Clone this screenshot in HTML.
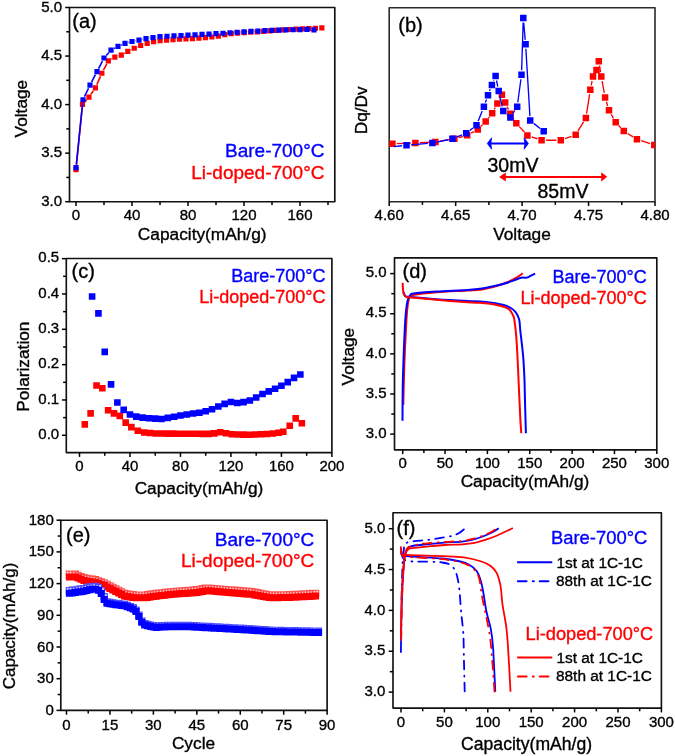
<!DOCTYPE html>
<html><head><meta charset="utf-8"><title>figure</title>
<style>
html,body{margin:0;padding:0;background:#fff;width:675px;height:756px;overflow:hidden;}
svg{display:block;will-change:transform;font-family:"Liberation Sans", sans-serif;}
</style></head><body>
<svg width="675" height="756" viewBox="0 0 675 756">
<defs><clipPath id="clipb"><rect x="389.2" y="7.8" width="265.8" height="193.9"/></clipPath></defs>
<rect width="675" height="756" fill="#fff"/>
<rect x="69.5" y="7.5" width="265.3" height="194.2" fill="none" stroke="#111" stroke-width="1.65" stroke-linejoin="round"/>
<line x1="76" y1="201.7" x2="76" y2="206" stroke="#000" stroke-width="1.5"/>
<line x1="104" y1="201.7" x2="104" y2="204.9" stroke="#000" stroke-width="1.5"/>
<line x1="132" y1="201.7" x2="132" y2="206" stroke="#000" stroke-width="1.5"/>
<line x1="160" y1="201.7" x2="160" y2="204.9" stroke="#000" stroke-width="1.5"/>
<line x1="188" y1="201.7" x2="188" y2="206" stroke="#000" stroke-width="1.5"/>
<line x1="216" y1="201.7" x2="216" y2="204.9" stroke="#000" stroke-width="1.5"/>
<line x1="244" y1="201.7" x2="244" y2="206" stroke="#000" stroke-width="1.5"/>
<line x1="272" y1="201.7" x2="272" y2="204.9" stroke="#000" stroke-width="1.5"/>
<line x1="300" y1="201.7" x2="300" y2="206" stroke="#000" stroke-width="1.5"/>
<line x1="328" y1="201.7" x2="328" y2="204.9" stroke="#000" stroke-width="1.5"/>
<line x1="69.5" y1="201.7" x2="65.2" y2="201.7" stroke="#000" stroke-width="1.5"/>
<line x1="69.5" y1="177.42" x2="66.3" y2="177.42" stroke="#000" stroke-width="1.5"/>
<line x1="69.5" y1="153.15" x2="65.2" y2="153.15" stroke="#000" stroke-width="1.5"/>
<line x1="69.5" y1="128.88" x2="66.3" y2="128.88" stroke="#000" stroke-width="1.5"/>
<line x1="69.5" y1="104.6" x2="65.2" y2="104.6" stroke="#000" stroke-width="1.5"/>
<line x1="69.5" y1="80.32" x2="66.3" y2="80.32" stroke="#000" stroke-width="1.5"/>
<line x1="69.5" y1="56.05" x2="65.2" y2="56.05" stroke="#000" stroke-width="1.5"/>
<line x1="69.5" y1="31.78" x2="66.3" y2="31.78" stroke="#000" stroke-width="1.5"/>
<line x1="69.5" y1="7.5" x2="65.2" y2="7.5" stroke="#000" stroke-width="1.5"/>
<text x="76" y="219.8" font-size="15" fill="#000" text-anchor="middle" stroke="#000" stroke-width="0.35">0</text>
<text x="132" y="219.8" font-size="15" fill="#000" text-anchor="middle" stroke="#000" stroke-width="0.35">40</text>
<text x="188" y="219.8" font-size="15" fill="#000" text-anchor="middle" stroke="#000" stroke-width="0.35">80</text>
<text x="244" y="219.8" font-size="15" fill="#000" text-anchor="middle" stroke="#000" stroke-width="0.35">120</text>
<text x="300" y="219.8" font-size="15" fill="#000" text-anchor="middle" stroke="#000" stroke-width="0.35">160</text>
<text x="62" y="205.7" font-size="15" fill="#000" text-anchor="end" stroke="#000" stroke-width="0.35">3.0</text>
<text x="62" y="157.15" font-size="15" fill="#000" text-anchor="end" stroke="#000" stroke-width="0.35">3.5</text>
<text x="62" y="108.6" font-size="15" fill="#000" text-anchor="end" stroke="#000" stroke-width="0.35">4.0</text>
<text x="62" y="60.05" font-size="15" fill="#000" text-anchor="end" stroke="#000" stroke-width="0.35">4.5</text>
<text x="62" y="11.5" font-size="15" fill="#000" text-anchor="end" stroke="#000" stroke-width="0.35">5.0</text>
<text x="202.2" y="239.5" font-size="17.3" fill="#000" text-anchor="middle" stroke="#000" stroke-width="0.35">Capacity(mAh/g)</text>
<text x="26.7" y="108.6" font-size="17.3" fill="#000" text-anchor="middle" transform="rotate(-90 26.7 108.6)" stroke="#000" stroke-width="0.35">Voltage</text>
<text x="72.3" y="27.5" font-size="20" fill="#000" text-anchor="start" stroke="#000" stroke-width="0.35">(a)</text>
<text x="324.5" y="156.8" font-size="19" fill="#0000ff" text-anchor="end" stroke="#0000ff" stroke-width="0.35">Bare-700°C</text>
<text x="324.5" y="179.3" font-size="19" fill="#ff0000" text-anchor="end" stroke="#ff0000" stroke-width="0.35">Li-doped-700°C</text>
<path d="M76.34 166.27L82.13 107.79M84.72 101.86L86.69 99.63M90.88 94.29L93.46 90.59M96.79 84.7L100.5 76.36M103.45 70.24L106.78 63.84M111.29 59.12L111.87 58.78M124.23 53.44L124.82 53.09M130.81 49.9L131.17 49.72M137.35 46.9L137.57 46.81" fill="none" stroke="#ff0000" stroke-width="1.6"/>
<path d="M73.4 167.06h5.2v5.2h-5.2zM79.87 101.81h5.2v5.2h-5.2zM86.34 94.48h5.2v5.2h-5.2zM92.81 85.2h5.2v5.2h-5.2zM99.28 70.66h5.2v5.2h-5.2zM105.75 58.22h5.2v5.2h-5.2zM112.22 54.48h5.2v5.2h-5.2zM118.69 52.54h5.2v5.2h-5.2zM125.16 48.79h5.2v5.2h-5.2zM131.63 45.63h5.2v5.2h-5.2zM138.09 42.88h5.2v5.2h-5.2zM144.56 40.86h5.2v5.2h-5.2zM151.03 38.95h5.2v5.2h-5.2zM157.5 37.98h5.2v5.2h-5.2zM163.97 37.48h5.2v5.2h-5.2zM170.44 37.01h5.2v5.2h-5.2zM176.91 36.67h5.2v5.2h-5.2zM183.38 36.35h5.2v5.2h-5.2zM189.85 36.03h5.2v5.2h-5.2zM196.32 35.51h5.2v5.2h-5.2zM202.79 34.95h5.2v5.2h-5.2zM209.26 34.39h5.2v5.2h-5.2zM215.73 33.49h5.2v5.2h-5.2zM222.2 32h5.2v5.2h-5.2zM228.67 30.94h5.2v5.2h-5.2zM235.14 30.51h5.2v5.2h-5.2zM241.61 30.09h5.2v5.2h-5.2zM248.08 29.66h5.2v5.2h-5.2zM254.55 29.23h5.2v5.2h-5.2zM261.01 28.74h5.2v5.2h-5.2zM267.48 28.24h5.2v5.2h-5.2zM273.95 27.75h5.2v5.2h-5.2zM280.42 27.25h5.2v5.2h-5.2zM286.89 26.92h5.2v5.2h-5.2zM293.36 26.6h5.2v5.2h-5.2zM299.83 26.28h5.2v5.2h-5.2zM306.3 25.96h5.2v5.2h-5.2zM312.77 25.64h5.2v5.2h-5.2zM319.24 25.32h5.2v5.2h-5.2z" fill="#ff0000"/>
<path d="M76.35 164.33L82.65 103.13M84.47 96.68L88.53 88.24M91.56 82.16L95.44 74.61M98.56 68.56L102.44 61.01M106.28 55.47L108.72 52.75M113.97 48.57L115.03 47.99M121.14 45.03L121.86 44.73M128.28 42.52L128.72 42.39M135.33 40.79L135.67 40.72M142.33 39.34L142.67 39.26M149.37 38.1L149.63 38.07M156.37 37.13L156.63 37.1M163.4 36.45L163.6 36.44M170.4 36.09L170.6 36.08M177.4 35.73L177.6 35.71M184.4 35.36L184.6 35.35M191.4 35L191.6 34.99M198.4 34.63L198.6 34.62M205.4 34.27L205.6 34.26M212.4 33.9L212.6 33.89M219.39 33.48L219.61 33.47M226.39 33L226.61 32.98M233.39 32.51L233.61 32.5M240.39 32.03L240.61 32.01M247.4 31.6L247.6 31.59M254.4 31.23L254.6 31.22M261.4 30.87L261.6 30.86M268.4 30.51L268.6 30.5M275.4 30.22L275.6 30.22M282.4 30.03L282.6 30.02M289.4 29.84L289.6 29.83M296.4 29.64L296.6 29.64M303.4 29.45L303.6 29.44M310.39 29.58L310.61 29.6" fill="none" stroke="#0000ff" stroke-width="1.6"/>
<path d="M73.4 165.11h5.2v5.2h-5.2zM80.4 97.15h5.2v5.2h-5.2zM87.4 82.58h5.2v5.2h-5.2zM94.4 68.99h5.2v5.2h-5.2zM101.4 55.39h5.2v5.2h-5.2zM108.4 47.62h5.2v5.2h-5.2zM115.4 43.74h5.2v5.2h-5.2zM122.4 40.83h5.2v5.2h-5.2zM129.4 38.88h5.2v5.2h-5.2zM136.4 37.43h5.2v5.2h-5.2zM143.4 35.97h5.2v5.2h-5.2zM150.4 35h5.2v5.2h-5.2zM157.4 34.03h5.2v5.2h-5.2zM164.4 33.67h5.2v5.2h-5.2zM171.4 33.3h5.2v5.2h-5.2zM178.4 32.94h5.2v5.2h-5.2zM185.4 32.57h5.2v5.2h-5.2zM192.4 32.21h5.2v5.2h-5.2zM199.4 31.85h5.2v5.2h-5.2zM206.4 31.48h5.2v5.2h-5.2zM213.4 31.12h5.2v5.2h-5.2zM220.4 30.63h5.2v5.2h-5.2zM227.4 30.15h5.2v5.2h-5.2zM234.4 29.66h5.2v5.2h-5.2zM241.4 29.18h5.2v5.2h-5.2zM248.4 28.81h5.2v5.2h-5.2zM255.4 28.45h5.2v5.2h-5.2zM262.4 28.08h5.2v5.2h-5.2zM269.4 27.72h5.2v5.2h-5.2zM276.4 27.52h5.2v5.2h-5.2zM283.4 27.33h5.2v5.2h-5.2zM290.4 27.14h5.2v5.2h-5.2zM297.4 26.94h5.2v5.2h-5.2zM304.4 26.75h5.2v5.2h-5.2zM311.4 27.23h5.2v5.2h-5.2z" fill="#0000ff"/>
<rect x="389.2" y="7.8" width="265.8" height="193.9" fill="none" stroke="#2a2a2a" stroke-width="1.6" stroke-linejoin="round"/>
<line x1="389.2" y1="201.7" x2="389.2" y2="206" stroke="#000" stroke-width="1.5"/>
<line x1="422.43" y1="201.7" x2="422.43" y2="204.9" stroke="#000" stroke-width="1.5"/>
<line x1="455.65" y1="201.7" x2="455.65" y2="206" stroke="#000" stroke-width="1.5"/>
<line x1="488.88" y1="201.7" x2="488.88" y2="204.9" stroke="#000" stroke-width="1.5"/>
<line x1="522.1" y1="201.7" x2="522.1" y2="206" stroke="#000" stroke-width="1.5"/>
<line x1="555.33" y1="201.7" x2="555.33" y2="204.9" stroke="#000" stroke-width="1.5"/>
<line x1="588.55" y1="201.7" x2="588.55" y2="206" stroke="#000" stroke-width="1.5"/>
<line x1="621.77" y1="201.7" x2="621.77" y2="204.9" stroke="#000" stroke-width="1.5"/>
<line x1="655" y1="201.7" x2="655" y2="206" stroke="#000" stroke-width="1.5"/>
<text x="389.2" y="220.2" font-size="15" fill="#000" text-anchor="middle" stroke="#000" stroke-width="0.35">4.60</text>
<text x="455.65" y="220.2" font-size="15" fill="#000" text-anchor="middle" stroke="#000" stroke-width="0.35">4.65</text>
<text x="522.1" y="220.2" font-size="15" fill="#000" text-anchor="middle" stroke="#000" stroke-width="0.35">4.70</text>
<text x="588.55" y="220.2" font-size="15" fill="#000" text-anchor="middle" stroke="#000" stroke-width="0.35">4.75</text>
<text x="655" y="220.2" font-size="15" fill="#000" text-anchor="middle" stroke="#000" stroke-width="0.35">4.80</text>
<text x="522" y="239.5" font-size="17.3" fill="#000" text-anchor="middle" stroke="#000" stroke-width="0.35">Voltage</text>
<text x="367.3" y="110.3" font-size="17.3" fill="#000" text-anchor="middle" transform="rotate(-90 367.3 110.3)" stroke="#000" stroke-width="0.35">Dq/Dv</text>
<text x="398.3" y="32" font-size="20" fill="#000" text-anchor="start" stroke="#000" stroke-width="0.35">(b)</text>
<g clip-path="url(#clipb)">
<path d="M396.9 143.56L410.9 143.14M419.89 142.75L430.91 142.15M439.84 141.17L449.86 139.53M458.64 137.62L462.86 136.48M471.13 133.11L473.87 131.59M480.98 126.22L482.52 124.68M488.5 117.97L489.4 116.83M494.31 109.32L495.29 107.48M499.47 99.5L499.83 98.8M507.11 106.68L508.49 109.62M512.76 117.53L513.94 119.47M519.34 126.62L524.36 132.08M531.66 136.84L537.34 138.76M546.1 140.2L556.3 140.2M565.03 138.67L571.47 136.33M578.04 130.95L583.56 121.85M586.59 113.55L589.61 94.15M591.21 85.29L592.09 81.01M599.52 65.64L600.58 72.16M602.11 81.03L604.29 92.97M606.4 101.71L607.7 105.99M611.19 114.23L613.51 118.37M618.75 125.61L620.75 127.79M627.63 133.47L633.07 136.83M641.17 140.62L650.03 143.58" fill="none" stroke="#ff0000" stroke-width="1.35"/>
<path d="M389.15 140.45h6.5v6.5h-6.5zM412.15 139.75h6.5v6.5h-6.5zM432.15 138.65h6.5v6.5h-6.5zM451.05 135.55h6.5v6.5h-6.5zM463.95 132.05h6.5v6.5h-6.5zM474.55 126.15h6.5v6.5h-6.5zM482.45 118.25h6.5v6.5h-6.5zM488.95 110.05h6.5v6.5h-6.5zM494.15 100.25h6.5v6.5h-6.5zM498.65 91.55h6.5v6.5h-6.5zM501.95 99.35h6.5v6.5h-6.5zM507.15 110.45h6.5v6.5h-6.5zM513.05 120.05h6.5v6.5h-6.5zM524.15 132.15h6.5v6.5h-6.5zM538.35 136.95h6.5v6.5h-6.5zM557.55 136.95h6.5v6.5h-6.5zM572.45 131.55h6.5v6.5h-6.5zM582.65 114.75h6.5v6.5h-6.5zM587.05 86.45h6.5v6.5h-6.5zM589.75 73.35h6.5v6.5h-6.5zM593.25 66.65h6.5v6.5h-6.5zM595.55 57.95h6.5v6.5h-6.5zM598.05 73.35h6.5v6.5h-6.5zM601.85 94.15h6.5v6.5h-6.5zM605.75 107.05h6.5v6.5h-6.5zM612.45 119.05h6.5v6.5h-6.5zM620.55 127.85h6.5v6.5h-6.5zM633.65 135.95h6.5v6.5h-6.5zM651.05 141.75h6.5v6.5h-6.5z" fill="#ff0000"/>
<path d="M393.67 146.68L402.03 145.72M410.98 144.82L427.92 143.38M436.8 142.08L448 139.72M456.58 137.13L462.02 134.97M469.74 130.52L472.96 127.98M478.17 121.02L482.23 110.88M485.41 102.46L486.49 99.44M489.61 91L490.29 89.2M493.63 80.84L493.87 80.26M496.52 80.5L497.78 86.5M499.71 95.29L502.29 106.51M506.62 113.94L507.08 114.36M512.81 113.6L514.79 110.5M517.8 102.24L520.9 79.26M521.64 70.3L523.16 22.5M523.69 22.48L525.21 39.82M525.87 48.79L529.93 116.11M533.73 123.4L540.17 128.5" fill="none" stroke="#0000ff" stroke-width="1.35"/>
<path d="M403.25 141.95h6.5v6.5h-6.5zM429.15 139.75h6.5v6.5h-6.5zM449.15 135.55h6.5v6.5h-6.5zM462.95 130.05h6.5v6.5h-6.5zM473.25 121.95h6.5v6.5h-6.5zM480.65 103.45h6.5v6.5h-6.5zM484.75 91.95h6.5v6.5h-6.5zM488.65 81.75h6.5v6.5h-6.5zM492.35 72.85h6.5v6.5h-6.5zM495.45 87.65h6.5v6.5h-6.5zM500.05 107.65h6.5v6.5h-6.5zM507.15 114.15h6.5v6.5h-6.5zM513.95 103.45h6.5v6.5h-6.5zM518.25 71.55h6.5v6.5h-6.5zM520.05 14.75h6.5v6.5h-6.5zM522.35 41.05h6.5v6.5h-6.5zM526.95 117.35h6.5v6.5h-6.5zM540.45 128.05h6.5v6.5h-6.5z" fill="#0000ff"/>
</g>
<line x1="490" y1="143.5" x2="526" y2="143.5" stroke="#0000ff" stroke-width="1.8"/>
<path d="M487.3 143.5L491.6 137.8L490.8 143.5L491.6 149.2Z" fill="#0000ff" stroke="#0000ff" stroke-width="0.8" stroke-linejoin="miter"/>
<path d="M528.4 143.5L524.1 137.8L524.9 143.5L524.1 149.2Z" fill="#0000ff" stroke="#0000ff" stroke-width="0.8" stroke-linejoin="miter"/>
<text x="487.5" y="171.5" font-size="19.5" fill="#000" text-anchor="start" stroke="#000" stroke-width="0.35">30mV</text>
<line x1="504" y1="177" x2="603" y2="177" stroke="#ff0000" stroke-width="1.8"/>
<path d="M499.1 177L505.8 172.6L505.8 181.5Z" fill="#ff0000"/>
<path d="M607.2 176.8L601.2 172.2L601.2 181.4Z" fill="#ff0000"/>
<text x="537.5" y="197.8" font-size="19.5" fill="#000" text-anchor="start" stroke="#000" stroke-width="0.35">85mV</text>
<rect x="66.3" y="258.5" width="265.6" height="194.1" fill="none" stroke="#111" stroke-width="1.65" stroke-linejoin="round"/>
<line x1="79.5" y1="452.6" x2="79.5" y2="456.9" stroke="#000" stroke-width="1.5"/>
<line x1="104.74" y1="452.6" x2="104.74" y2="455.8" stroke="#000" stroke-width="1.5"/>
<line x1="129.98" y1="452.6" x2="129.98" y2="456.9" stroke="#000" stroke-width="1.5"/>
<line x1="155.22" y1="452.6" x2="155.22" y2="455.8" stroke="#000" stroke-width="1.5"/>
<line x1="180.46" y1="452.6" x2="180.46" y2="456.9" stroke="#000" stroke-width="1.5"/>
<line x1="205.7" y1="452.6" x2="205.7" y2="455.8" stroke="#000" stroke-width="1.5"/>
<line x1="230.94" y1="452.6" x2="230.94" y2="456.9" stroke="#000" stroke-width="1.5"/>
<line x1="256.18" y1="452.6" x2="256.18" y2="455.8" stroke="#000" stroke-width="1.5"/>
<line x1="281.42" y1="452.6" x2="281.42" y2="456.9" stroke="#000" stroke-width="1.5"/>
<line x1="306.66" y1="452.6" x2="306.66" y2="455.8" stroke="#000" stroke-width="1.5"/>
<line x1="331.9" y1="452.6" x2="331.9" y2="456.9" stroke="#000" stroke-width="1.5"/>
<line x1="66.3" y1="435.3" x2="62" y2="435.3" stroke="#000" stroke-width="1.5"/>
<line x1="66.3" y1="417.63" x2="63.1" y2="417.63" stroke="#000" stroke-width="1.5"/>
<line x1="66.3" y1="399.97" x2="62" y2="399.97" stroke="#000" stroke-width="1.5"/>
<line x1="66.3" y1="382.31" x2="63.1" y2="382.31" stroke="#000" stroke-width="1.5"/>
<line x1="66.3" y1="364.64" x2="62" y2="364.64" stroke="#000" stroke-width="1.5"/>
<line x1="66.3" y1="346.98" x2="63.1" y2="346.98" stroke="#000" stroke-width="1.5"/>
<line x1="66.3" y1="329.31" x2="62" y2="329.31" stroke="#000" stroke-width="1.5"/>
<line x1="66.3" y1="311.64" x2="63.1" y2="311.64" stroke="#000" stroke-width="1.5"/>
<line x1="66.3" y1="293.98" x2="62" y2="293.98" stroke="#000" stroke-width="1.5"/>
<line x1="66.3" y1="276.31" x2="63.1" y2="276.31" stroke="#000" stroke-width="1.5"/>
<line x1="66.3" y1="258.65" x2="62" y2="258.65" stroke="#000" stroke-width="1.5"/>
<text x="79.5" y="470.6" font-size="15" fill="#000" text-anchor="middle" stroke="#000" stroke-width="0.35">0</text>
<text x="129.98" y="470.6" font-size="15" fill="#000" text-anchor="middle" stroke="#000" stroke-width="0.35">40</text>
<text x="180.46" y="470.6" font-size="15" fill="#000" text-anchor="middle" stroke="#000" stroke-width="0.35">80</text>
<text x="230.94" y="470.6" font-size="15" fill="#000" text-anchor="middle" stroke="#000" stroke-width="0.35">120</text>
<text x="281.42" y="470.6" font-size="15" fill="#000" text-anchor="middle" stroke="#000" stroke-width="0.35">160</text>
<text x="331.9" y="470.6" font-size="15" fill="#000" text-anchor="middle" stroke="#000" stroke-width="0.35">200</text>
<text x="59.2" y="438.9" font-size="15" fill="#000" text-anchor="end" stroke="#000" stroke-width="0.35">0.0</text>
<text x="59.2" y="403.57" font-size="15" fill="#000" text-anchor="end" stroke="#000" stroke-width="0.35">0.1</text>
<text x="59.2" y="368.24" font-size="15" fill="#000" text-anchor="end" stroke="#000" stroke-width="0.35">0.2</text>
<text x="59.2" y="332.91" font-size="15" fill="#000" text-anchor="end" stroke="#000" stroke-width="0.35">0.3</text>
<text x="59.2" y="297.58" font-size="15" fill="#000" text-anchor="end" stroke="#000" stroke-width="0.35">0.4</text>
<text x="59.2" y="262.25" font-size="15" fill="#000" text-anchor="end" stroke="#000" stroke-width="0.35">0.5</text>
<text x="199" y="494.3" font-size="17.3" fill="#000" text-anchor="middle" stroke="#000" stroke-width="0.35">Capacity(mAh/g)</text>
<text x="28.8" y="366.7" font-size="17.3" fill="#000" text-anchor="middle" transform="rotate(-90 28.8 366.7)" stroke="#000" stroke-width="0.35">Polarization</text>
<text x="71.5" y="278" font-size="20" fill="#000" text-anchor="start" stroke="#000" stroke-width="0.35">(c)</text>
<text x="325.5" y="281.5" font-size="18" fill="#0000ff" text-anchor="end" stroke="#0000ff" stroke-width="0.35">Bare-700°C</text>
<text x="325.5" y="302.9" font-size="18" fill="#ff0000" text-anchor="end" stroke="#ff0000" stroke-width="0.35">Li-doped-700°C</text>
<path d="M81.5 421.05h6.6v6.6h-6.6zM87.31 410.1h6.6v6.6h-6.6zM93.24 382.18h6.6v6.6h-6.6zM99.04 385.01h6.6v6.6h-6.6zM104.85 406.92h6.6v6.6h-6.6zM110.65 410.1h6.6v6.6h-6.6zM116.46 412.57h6.6v6.6h-6.6zM122.39 419.28h6.6v6.6h-6.6zM128.07 423.87h6.6v6.6h-6.6zM134.5 427.41h6.6v6.6h-6.6zM140.94 429.17h6.6v6.6h-6.6zM146.78 429.74h6.6v6.6h-6.6zM152.63 430.24h6.6v6.6h-6.6zM158.47 430.27h6.6v6.6h-6.6zM164.31 430.31h6.6v6.6h-6.6zM170.16 430.35h6.6v6.6h-6.6zM176 430.38h6.6v6.6h-6.6zM181.84 430.42h6.6v6.6h-6.6zM187.69 430.46h6.6v6.6h-6.6zM193.53 430.49h6.6v6.6h-6.6zM199.37 430.53h6.6v6.6h-6.6zM205.21 430.57h6.6v6.6h-6.6zM211.06 430.12h6.6v6.6h-6.6zM216.9 428.95h6.6v6.6h-6.6zM222.74 429.91h6.6v6.6h-6.6zM228.59 430.97h6.6v6.6h-6.6zM234.43 431.13h6.6v6.6h-6.6zM240.27 431.29h6.6v6.6h-6.6zM246.12 431.46h6.6v6.6h-6.6zM251.96 431.22h6.6v6.6h-6.6zM257.8 430.95h6.6v6.6h-6.6zM263.64 430.67h6.6v6.6h-6.6zM269.49 430.21h6.6v6.6h-6.6zM275.33 429.42h6.6v6.6h-6.6zM280.01 428.47h6.6v6.6h-6.6zM286.45 422.46h6.6v6.6h-6.6zM292.38 415.04h6.6v6.6h-6.6zM298.56 419.99h6.6v6.6h-6.6z" fill="#ff0000"/>
<path d="M88.82 293.15h6.6v6.6h-6.6zM95.13 310.11h6.6v6.6h-6.6zM101.44 348.62h6.6v6.6h-6.6zM107.75 381.12h6.6v6.6h-6.6zM114.06 399.14h6.6v6.6h-6.6zM120.37 406.56h6.6v6.6h-6.6zM126.68 411.16h6.6v6.6h-6.6zM132.99 413.28h6.6v6.6h-6.6zM139.3 414.28h6.6v6.6h-6.6zM145.61 414.93h6.6v6.6h-6.6zM151.92 415.34h6.6v6.6h-6.6zM158.23 415.75h6.6v6.6h-6.6zM164.54 414.57h6.6v6.6h-6.6zM170.85 413.39h6.6v6.6h-6.6zM177.16 412.22h6.6v6.6h-6.6zM183.47 411.16h6.6v6.6h-6.6zM189.78 410.27h6.6v6.6h-6.6zM196.09 409.39h6.6v6.6h-6.6zM202.4 407.98h6.6v6.6h-6.6zM208.71 406h6.6v6.6h-6.6zM215.02 403.21h6.6v6.6h-6.6zM221.33 400.56h6.6v6.6h-6.6zM227.64 398.72h6.6v6.6h-6.6zM233.95 399.71h6.6v6.6h-6.6zM240.26 398.86h6.6v6.6h-6.6zM246.57 397.16h6.6v6.6h-6.6zM252.88 394.2h6.6v6.6h-6.6zM259.19 390.74h6.6v6.6h-6.6zM265.5 388.05h6.6v6.6h-6.6zM271.81 385.48h6.6v6.6h-6.6zM278.12 382.47h6.6v6.6h-6.6zM284.43 378.84h6.6v6.6h-6.6zM290.74 374.57h6.6v6.6h-6.6zM297.05 371.23h6.6v6.6h-6.6z" fill="#0000ff"/>
<rect x="394.5" y="257.8" width="262.3" height="192" fill="none" stroke="#111" stroke-width="1.65" stroke-linejoin="round"/>
<line x1="402.7" y1="449.8" x2="402.7" y2="454.1" stroke="#000" stroke-width="1.5"/>
<line x1="423.88" y1="449.8" x2="423.88" y2="453" stroke="#000" stroke-width="1.5"/>
<line x1="445.05" y1="449.8" x2="445.05" y2="454.1" stroke="#000" stroke-width="1.5"/>
<line x1="466.22" y1="449.8" x2="466.22" y2="453" stroke="#000" stroke-width="1.5"/>
<line x1="487.4" y1="449.8" x2="487.4" y2="454.1" stroke="#000" stroke-width="1.5"/>
<line x1="508.57" y1="449.8" x2="508.57" y2="453" stroke="#000" stroke-width="1.5"/>
<line x1="529.75" y1="449.8" x2="529.75" y2="454.1" stroke="#000" stroke-width="1.5"/>
<line x1="550.92" y1="449.8" x2="550.92" y2="453" stroke="#000" stroke-width="1.5"/>
<line x1="572.1" y1="449.8" x2="572.1" y2="454.1" stroke="#000" stroke-width="1.5"/>
<line x1="593.27" y1="449.8" x2="593.27" y2="453" stroke="#000" stroke-width="1.5"/>
<line x1="614.45" y1="449.8" x2="614.45" y2="454.1" stroke="#000" stroke-width="1.5"/>
<line x1="635.62" y1="449.8" x2="635.62" y2="453" stroke="#000" stroke-width="1.5"/>
<line x1="656.8" y1="449.8" x2="656.8" y2="454.1" stroke="#000" stroke-width="1.5"/>
<line x1="394.5" y1="434.1" x2="390.2" y2="434.1" stroke="#000" stroke-width="1.5"/>
<line x1="394.5" y1="414.04" x2="391.3" y2="414.04" stroke="#000" stroke-width="1.5"/>
<line x1="394.5" y1="393.98" x2="390.2" y2="393.98" stroke="#000" stroke-width="1.5"/>
<line x1="394.5" y1="373.91" x2="391.3" y2="373.91" stroke="#000" stroke-width="1.5"/>
<line x1="394.5" y1="353.85" x2="390.2" y2="353.85" stroke="#000" stroke-width="1.5"/>
<line x1="394.5" y1="333.79" x2="391.3" y2="333.79" stroke="#000" stroke-width="1.5"/>
<line x1="394.5" y1="313.73" x2="390.2" y2="313.73" stroke="#000" stroke-width="1.5"/>
<line x1="394.5" y1="293.66" x2="391.3" y2="293.66" stroke="#000" stroke-width="1.5"/>
<line x1="394.5" y1="273.6" x2="390.2" y2="273.6" stroke="#000" stroke-width="1.5"/>
<text x="402.7" y="467.8" font-size="15" fill="#000" text-anchor="middle" stroke="#000" stroke-width="0.35">0</text>
<text x="445.05" y="467.8" font-size="15" fill="#000" text-anchor="middle" stroke="#000" stroke-width="0.35">50</text>
<text x="487.4" y="467.8" font-size="15" fill="#000" text-anchor="middle" stroke="#000" stroke-width="0.35">100</text>
<text x="529.75" y="467.8" font-size="15" fill="#000" text-anchor="middle" stroke="#000" stroke-width="0.35">150</text>
<text x="572.1" y="467.8" font-size="15" fill="#000" text-anchor="middle" stroke="#000" stroke-width="0.35">200</text>
<text x="614.45" y="467.8" font-size="15" fill="#000" text-anchor="middle" stroke="#000" stroke-width="0.35">250</text>
<text x="656.8" y="467.8" font-size="15" fill="#000" text-anchor="middle" stroke="#000" stroke-width="0.35">300</text>
<text x="386.5" y="437.8" font-size="15" fill="#000" text-anchor="end" stroke="#000" stroke-width="0.35">3.0</text>
<text x="386.5" y="397.68" font-size="15" fill="#000" text-anchor="end" stroke="#000" stroke-width="0.35">3.5</text>
<text x="386.5" y="357.55" font-size="15" fill="#000" text-anchor="end" stroke="#000" stroke-width="0.35">4.0</text>
<text x="386.5" y="317.43" font-size="15" fill="#000" text-anchor="end" stroke="#000" stroke-width="0.35">4.5</text>
<text x="386.5" y="277.3" font-size="15" fill="#000" text-anchor="end" stroke="#000" stroke-width="0.35">5.0</text>
<text x="525" y="487.2" font-size="17.3" fill="#000" text-anchor="middle" stroke="#000" stroke-width="0.35">Capacity(mAh/g)</text>
<text x="354.2" y="356.6" font-size="17.3" fill="#000" text-anchor="middle" transform="rotate(-90 354.2 356.6)" stroke="#000" stroke-width="0.35">Voltage</text>
<text x="402.5" y="277.5" font-size="20" fill="#000" text-anchor="start" stroke="#000" stroke-width="0.35">(d)</text>
<text x="646.8" y="282.7" font-size="18" fill="#0000ff" text-anchor="end" stroke="#0000ff" stroke-width="0.35">Bare-700°C</text>
<text x="646.8" y="303.7" font-size="18" fill="#ff0000" text-anchor="end" stroke="#ff0000" stroke-width="0.35">Li-doped-700°C</text>
<path d="M403.3 405C403.35 402.5 403.4 397.5 403.6 390C403.8 382.5 404.12 370 404.5 360C404.88 350 405.45 338.33 405.9 330C406.35 321.67 406.63 315.42 407.2 310C407.77 304.58 408.17 300.03 409.3 297.5C410.43 294.97 409.47 295.68 414 294.8C418.53 293.92 427.57 292.92 436.5 292.2C445.43 291.48 460.02 290.97 467.6 290.5C475.18 290.03 477.6 290.02 482 289.4C486.4 288.78 490 287.9 494 286.8C498 285.7 502.33 284.28 506 282.8C509.67 281.32 513.22 279.47 516 277.9C518.78 276.33 521.58 274.15 522.7 273.4" fill="none" stroke="#ff0000" stroke-width="2.0" stroke-linejoin="round"/>
<path d="M402.5 420.7C402.52 417.25 402.53 406.95 402.6 400C402.67 393.05 402.68 387.43 402.9 379C403.12 370.57 403.5 359.28 403.9 349.4C404.3 339.52 404.73 327.62 405.3 319.7C405.87 311.78 406.53 305.85 407.3 301.9C408.07 297.95 408.83 297.38 409.9 296C410.97 294.62 409.27 294.33 413.7 293.6C418.13 292.87 427.52 292.2 436.5 291.6C445.48 291 460.02 290.52 467.6 290C475.18 289.48 477.6 289.15 482 288.5C486.4 287.85 490 286.98 494 286.1C498 285.22 502.5 284.22 506 283.2C509.5 282.18 512.75 280.83 515 280C517.25 279.17 518.17 278.6 519.5 278.2C520.83 277.8 521.75 277.7 523 277.6C524.25 277.5 525.67 277.93 527 277.6C528.33 277.27 529.65 276.27 531 275.6C532.35 274.93 534.42 273.93 535.1 273.6" fill="none" stroke="#0000ff" stroke-width="2.0" stroke-linejoin="round"/>
<path d="M403.5 292C403.75 292.58 404.17 294.7 405 295.5C405.83 296.3 403.25 296.18 408.5 296.8C413.75 297.42 426.65 298.5 436.5 299.2C446.35 299.9 460.35 300.63 467.6 301C474.85 301.37 475.95 301.12 480 301.4C484.05 301.68 487.95 302.1 491.9 302.7C495.85 303.3 500.55 304.12 503.7 305C506.85 305.88 508.82 306.82 510.8 308C512.78 309.18 514.22 310.22 515.6 312.1C516.98 313.98 518.3 316.07 519.1 319.3C519.9 322.53 519.73 325.45 520.4 331.5C521.07 337.55 522.43 347.88 523.1 355.6C523.77 363.32 524.08 370.08 524.4 377.8C524.72 385.52 524.75 392.65 525 401.9C525.25 411.15 525.75 428.07 525.9 433.3" fill="none" stroke="#0000ff" stroke-width="2.0" stroke-linejoin="round"/>
<path d="M402.7 282.8C402.75 284 402.78 288.05 403 290C403.22 291.95 403.43 293.35 404 294.5C404.57 295.65 405.13 296.4 406.4 296.9C407.67 297.4 406.58 297.02 411.6 297.5C416.62 297.98 427.17 299 436.5 299.8C445.83 300.6 460.35 301.8 467.6 302.3C474.85 302.8 475.95 302.53 480 302.8C484.05 303.07 487.95 303.23 491.9 303.9C495.85 304.57 500.75 305.82 503.7 306.8C506.65 307.78 508.02 308.32 509.6 309.8C511.18 311.28 512.4 314 513.2 315.7C514 317.4 513.88 316.45 514.4 320C514.92 323.55 515.77 330.45 516.3 337C516.83 343.55 517.13 350.03 517.6 359.3C518.07 368.57 518.63 382.42 519.1 392.6C519.57 402.78 520.03 413.62 520.4 420.4C520.77 427.18 521.15 431.15 521.3 433.3" fill="none" stroke="#ff0000" stroke-width="2.0" stroke-linejoin="round"/>
<rect x="60.8" y="520.2" width="266.3" height="190.2" fill="none" stroke="#111" stroke-width="1.65" stroke-linejoin="round"/>
<line x1="66.5" y1="710.4" x2="66.5" y2="714.7" stroke="#000" stroke-width="1.5"/>
<line x1="109.94" y1="710.4" x2="109.94" y2="714.7" stroke="#000" stroke-width="1.5"/>
<line x1="153.38" y1="710.4" x2="153.38" y2="714.7" stroke="#000" stroke-width="1.5"/>
<line x1="196.82" y1="710.4" x2="196.82" y2="714.7" stroke="#000" stroke-width="1.5"/>
<line x1="240.26" y1="710.4" x2="240.26" y2="714.7" stroke="#000" stroke-width="1.5"/>
<line x1="283.7" y1="710.4" x2="283.7" y2="714.7" stroke="#000" stroke-width="1.5"/>
<line x1="327.14" y1="710.4" x2="327.14" y2="714.7" stroke="#000" stroke-width="1.5"/>
<line x1="88.22" y1="710.4" x2="88.22" y2="713.6" stroke="#000" stroke-width="1.5"/>
<line x1="131.66" y1="710.4" x2="131.66" y2="713.6" stroke="#000" stroke-width="1.5"/>
<line x1="175.1" y1="710.4" x2="175.1" y2="713.6" stroke="#000" stroke-width="1.5"/>
<line x1="218.54" y1="710.4" x2="218.54" y2="713.6" stroke="#000" stroke-width="1.5"/>
<line x1="261.98" y1="710.4" x2="261.98" y2="713.6" stroke="#000" stroke-width="1.5"/>
<line x1="305.42" y1="710.4" x2="305.42" y2="713.6" stroke="#000" stroke-width="1.5"/>
<line x1="60.8" y1="710.4" x2="56.5" y2="710.4" stroke="#000" stroke-width="1.5"/>
<line x1="60.8" y1="694.55" x2="57.6" y2="694.55" stroke="#000" stroke-width="1.5"/>
<line x1="60.8" y1="678.7" x2="56.5" y2="678.7" stroke="#000" stroke-width="1.5"/>
<line x1="60.8" y1="662.85" x2="57.6" y2="662.85" stroke="#000" stroke-width="1.5"/>
<line x1="60.8" y1="647" x2="56.5" y2="647" stroke="#000" stroke-width="1.5"/>
<line x1="60.8" y1="631.15" x2="57.6" y2="631.15" stroke="#000" stroke-width="1.5"/>
<line x1="60.8" y1="615.3" x2="56.5" y2="615.3" stroke="#000" stroke-width="1.5"/>
<line x1="60.8" y1="599.45" x2="57.6" y2="599.45" stroke="#000" stroke-width="1.5"/>
<line x1="60.8" y1="583.6" x2="56.5" y2="583.6" stroke="#000" stroke-width="1.5"/>
<line x1="60.8" y1="567.75" x2="57.6" y2="567.75" stroke="#000" stroke-width="1.5"/>
<line x1="60.8" y1="551.89" x2="56.5" y2="551.89" stroke="#000" stroke-width="1.5"/>
<line x1="60.8" y1="536.04" x2="57.6" y2="536.04" stroke="#000" stroke-width="1.5"/>
<line x1="60.8" y1="520.19" x2="56.5" y2="520.19" stroke="#000" stroke-width="1.5"/>
<text x="66.5" y="730.2" font-size="15" fill="#000" text-anchor="middle" stroke="#000" stroke-width="0.35">0</text>
<text x="109.94" y="730.2" font-size="15" fill="#000" text-anchor="middle" stroke="#000" stroke-width="0.35">15</text>
<text x="153.38" y="730.2" font-size="15" fill="#000" text-anchor="middle" stroke="#000" stroke-width="0.35">30</text>
<text x="196.82" y="730.2" font-size="15" fill="#000" text-anchor="middle" stroke="#000" stroke-width="0.35">45</text>
<text x="240.26" y="730.2" font-size="15" fill="#000" text-anchor="middle" stroke="#000" stroke-width="0.35">60</text>
<text x="283.7" y="730.2" font-size="15" fill="#000" text-anchor="middle" stroke="#000" stroke-width="0.35">75</text>
<text x="327.14" y="730.2" font-size="15" fill="#000" text-anchor="middle" stroke="#000" stroke-width="0.35">90</text>
<text x="53.8" y="714.9" font-size="15" fill="#000" text-anchor="end" stroke="#000" stroke-width="0.35">0</text>
<text x="53.8" y="683.2" font-size="15" fill="#000" text-anchor="end" stroke="#000" stroke-width="0.35">30</text>
<text x="53.8" y="651.5" font-size="15" fill="#000" text-anchor="end" stroke="#000" stroke-width="0.35">60</text>
<text x="53.8" y="619.8" font-size="15" fill="#000" text-anchor="end" stroke="#000" stroke-width="0.35">90</text>
<text x="53.8" y="588.1" font-size="15" fill="#000" text-anchor="end" stroke="#000" stroke-width="0.35">120</text>
<text x="53.8" y="556.39" font-size="15" fill="#000" text-anchor="end" stroke="#000" stroke-width="0.35">150</text>
<text x="53.8" y="524.69" font-size="15" fill="#000" text-anchor="end" stroke="#000" stroke-width="0.35">180</text>
<text x="193.5" y="748.6" font-size="17.3" fill="#000" text-anchor="middle" stroke="#000" stroke-width="0.35">Cycle</text>
<text x="14.6" y="626" font-size="17" fill="#000" text-anchor="middle" transform="rotate(-90 14.6 626)" stroke="#000" stroke-width="0.35">Capacity(mAh/g)</text>
<text x="66" y="541.5" font-size="20" fill="#000" text-anchor="start" stroke="#000" stroke-width="0.35">(e)</text>
<text x="314.3" y="546.1" font-size="19" fill="#0000ff" text-anchor="end" stroke="#0000ff" stroke-width="0.35">Bare-700°C</text>
<text x="314.3" y="567.4" font-size="19" fill="#ff0000" text-anchor="end" stroke="#ff0000" stroke-width="0.35">Li-doped-700°C</text>
<path d="M66.2 571.14h6.4v6.4h-6.4zM69.09 571.14h6.4v6.4h-6.4zM71.99 571.14h6.4v6.4h-6.4zM74.88 572.29h6.4v6.4h-6.4zM77.78 573.44h6.4v6.4h-6.4zM80.68 574.59h6.4v6.4h-6.4zM83.57 575.29h6.4v6.4h-6.4zM86.47 575.7h6.4v6.4h-6.4zM89.36 576.1h6.4v6.4h-6.4zM92.26 576.63h6.4v6.4h-6.4zM95.16 577.69h6.4v6.4h-6.4zM98.05 578.75h6.4v6.4h-6.4zM100.95 579.8h6.4v6.4h-6.4zM103.84 581.19h6.4v6.4h-6.4zM106.74 582.71h6.4v6.4h-6.4zM109.64 584.23h6.4v6.4h-6.4zM112.53 585.74h6.4v6.4h-6.4zM115.43 587.22h6.4v6.4h-6.4zM118.32 588.7h6.4v6.4h-6.4zM121.22 590.18h6.4v6.4h-6.4zM124.12 590.81h6.4v6.4h-6.4zM127.01 591.24h6.4v6.4h-6.4zM129.91 591.66h6.4v6.4h-6.4zM132.8 591.96h6.4v6.4h-6.4zM135.7 591.96h6.4v6.4h-6.4zM138.6 591.96h6.4v6.4h-6.4zM141.49 591.96h6.4v6.4h-6.4zM144.39 591.58h6.4v6.4h-6.4zM147.28 591.15h6.4v6.4h-6.4zM150.18 590.73h6.4v6.4h-6.4zM153.08 590.35h6.4v6.4h-6.4zM155.97 590.03h6.4v6.4h-6.4zM158.87 589.71h6.4v6.4h-6.4zM161.76 589.39h6.4v6.4h-6.4zM164.66 589.07h6.4v6.4h-6.4zM167.56 588.75h6.4v6.4h-6.4zM170.45 588.43h6.4v6.4h-6.4zM173.35 588.21h6.4v6.4h-6.4zM176.24 588.01h6.4v6.4h-6.4zM179.14 587.82h6.4v6.4h-6.4zM182.04 587.62h6.4v6.4h-6.4zM184.93 587.42h6.4v6.4h-6.4zM187.83 587.19h6.4v6.4h-6.4zM190.72 586.89h6.4v6.4h-6.4zM193.62 586.59h6.4v6.4h-6.4zM196.52 586.24h6.4v6.4h-6.4zM199.41 585.67h6.4v6.4h-6.4zM202.31 585.1h6.4v6.4h-6.4zM205.2 585.02h6.4v6.4h-6.4zM208.1 585.26h6.4v6.4h-6.4zM211 585.49h6.4v6.4h-6.4zM213.89 585.73h6.4v6.4h-6.4zM216.79 585.97h6.4v6.4h-6.4zM219.68 586.2h6.4v6.4h-6.4zM222.58 586.44h6.4v6.4h-6.4zM225.48 586.68h6.4v6.4h-6.4zM228.37 586.91h6.4v6.4h-6.4zM231.27 587.15h6.4v6.4h-6.4zM234.16 587.39h6.4v6.4h-6.4zM237.06 587.63h6.4v6.4h-6.4zM239.96 587.86h6.4v6.4h-6.4zM242.85 588.1h6.4v6.4h-6.4zM245.75 588.34h6.4v6.4h-6.4zM248.64 588.57h6.4v6.4h-6.4zM251.54 589.11h6.4v6.4h-6.4zM254.44 589.65h6.4v6.4h-6.4zM257.33 590.18h6.4v6.4h-6.4zM260.23 590.72h6.4v6.4h-6.4zM263.12 591.26h6.4v6.4h-6.4zM266.02 591.79h6.4v6.4h-6.4zM268.92 591.92h6.4v6.4h-6.4zM271.81 591.88h6.4v6.4h-6.4zM274.71 591.83h6.4v6.4h-6.4zM277.6 591.79h6.4v6.4h-6.4zM280.5 591.74h6.4v6.4h-6.4zM283.4 591.69h6.4v6.4h-6.4zM286.29 591.65h6.4v6.4h-6.4zM289.19 591.51h6.4v6.4h-6.4zM292.08 591.36h6.4v6.4h-6.4zM294.98 591.2h6.4v6.4h-6.4zM297.88 591.05h6.4v6.4h-6.4zM300.77 590.89h6.4v6.4h-6.4zM303.67 590.73h6.4v6.4h-6.4zM306.56 590.58h6.4v6.4h-6.4zM309.46 590.42h6.4v6.4h-6.4zM312.36 590.27h6.4v6.4h-6.4z" fill="#ffd8d8" stroke="#ff5050" stroke-width="1.1"/>
<path d="M65.9 573.44h7v7h-7zM68.79 573.44h7v7h-7zM71.69 573.44h7v7h-7zM74.58 574.59h7v7h-7zM77.48 575.74h7v7h-7zM80.38 576.89h7v7h-7zM83.27 577.59h7v7h-7zM86.17 578h7v7h-7zM89.06 578.4h7v7h-7zM91.96 578.93h7v7h-7zM94.86 579.99h7v7h-7zM97.75 581.05h7v7h-7zM100.65 582.1h7v7h-7zM103.54 583.49h7v7h-7zM106.44 585.01h7v7h-7zM109.34 586.53h7v7h-7zM112.23 588.04h7v7h-7zM115.13 589.52h7v7h-7zM118.02 591h7v7h-7zM120.92 592.48h7v7h-7zM123.82 593.11h7v7h-7zM126.71 593.54h7v7h-7zM129.61 593.96h7v7h-7zM132.5 594.26h7v7h-7zM135.4 594.26h7v7h-7zM138.3 594.26h7v7h-7zM141.19 594.26h7v7h-7zM144.09 593.88h7v7h-7zM146.98 593.45h7v7h-7zM149.88 593.03h7v7h-7zM152.78 592.65h7v7h-7zM155.67 592.33h7v7h-7zM158.57 592.01h7v7h-7zM161.46 591.69h7v7h-7zM164.36 591.37h7v7h-7zM167.26 591.05h7v7h-7zM170.15 590.73h7v7h-7zM173.05 590.51h7v7h-7zM175.94 590.31h7v7h-7zM178.84 590.12h7v7h-7zM181.74 589.92h7v7h-7zM184.63 589.72h7v7h-7zM187.53 589.49h7v7h-7zM190.42 589.19h7v7h-7zM193.32 588.89h7v7h-7zM196.22 588.54h7v7h-7zM199.11 587.97h7v7h-7zM202.01 587.4h7v7h-7zM204.9 587.32h7v7h-7zM207.8 587.56h7v7h-7zM210.7 587.79h7v7h-7zM213.59 588.03h7v7h-7zM216.49 588.27h7v7h-7zM219.38 588.5h7v7h-7zM222.28 588.74h7v7h-7zM225.18 588.98h7v7h-7zM228.07 589.21h7v7h-7zM230.97 589.45h7v7h-7zM233.86 589.69h7v7h-7zM236.76 589.93h7v7h-7zM239.66 590.16h7v7h-7zM242.55 590.4h7v7h-7zM245.45 590.64h7v7h-7zM248.34 590.87h7v7h-7zM251.24 591.41h7v7h-7zM254.14 591.95h7v7h-7zM257.03 592.48h7v7h-7zM259.93 593.02h7v7h-7zM262.82 593.56h7v7h-7zM265.72 594.09h7v7h-7zM268.62 594.22h7v7h-7zM271.51 594.18h7v7h-7zM274.41 594.13h7v7h-7zM277.3 594.09h7v7h-7zM280.2 594.04h7v7h-7zM283.1 593.99h7v7h-7zM285.99 593.95h7v7h-7zM288.89 593.81h7v7h-7zM291.78 593.66h7v7h-7zM294.68 593.5h7v7h-7zM297.58 593.35h7v7h-7zM300.47 593.19h7v7h-7zM303.37 593.03h7v7h-7zM306.26 592.88h7v7h-7zM309.16 592.72h7v7h-7zM312.06 592.57h7v7h-7z" fill="#ff0000"/>
<path d="M66.2 587.54h6.4v6.4h-6.4zM69.09 587.14h6.4v6.4h-6.4zM71.99 586.74h6.4v6.4h-6.4zM74.88 586.31h6.4v6.4h-6.4zM77.78 585.89h6.4v6.4h-6.4zM80.68 585.47h6.4v6.4h-6.4zM83.57 584.78h6.4v6.4h-6.4zM86.47 583.91h6.4v6.4h-6.4zM89.36 583.43h6.4v6.4h-6.4zM92.26 583.33h6.4v6.4h-6.4zM95.16 584.56h6.4v6.4h-6.4zM98.05 587.69h6.4v6.4h-6.4zM100.95 593.66h6.4v6.4h-6.4zM103.84 598.83h6.4v6.4h-6.4zM106.74 599.31h6.4v6.4h-6.4zM109.64 599.78h6.4v6.4h-6.4zM112.53 600.24h6.4v6.4h-6.4zM115.43 600.63h6.4v6.4h-6.4zM118.32 601.02h6.4v6.4h-6.4zM121.22 601.41h6.4v6.4h-6.4zM124.12 602.37h6.4v6.4h-6.4zM127.01 603.46h6.4v6.4h-6.4zM129.91 604.56h6.4v6.4h-6.4zM132.8 607.17h6.4v6.4h-6.4zM135.7 612.17h6.4v6.4h-6.4zM138.6 617.96h6.4v6.4h-6.4zM141.49 620.57h6.4v6.4h-6.4zM144.39 621.4h6.4v6.4h-6.4zM147.28 622.03h6.4v6.4h-6.4zM150.18 622.67h6.4v6.4h-6.4zM153.08 622.98h6.4v6.4h-6.4zM155.97 622.81h6.4v6.4h-6.4zM158.87 622.65h6.4v6.4h-6.4zM161.76 622.48h6.4v6.4h-6.4zM164.66 622.31h6.4v6.4h-6.4zM167.56 622.32h6.4v6.4h-6.4zM170.45 622.34h6.4v6.4h-6.4zM173.35 622.35h6.4v6.4h-6.4zM176.24 622.36h6.4v6.4h-6.4zM179.14 622.38h6.4v6.4h-6.4zM182.04 622.39h6.4v6.4h-6.4zM184.93 622.41h6.4v6.4h-6.4zM187.83 622.46h6.4v6.4h-6.4zM190.72 622.62h6.4v6.4h-6.4zM193.62 622.78h6.4v6.4h-6.4zM196.52 622.94h6.4v6.4h-6.4zM199.41 623.1h6.4v6.4h-6.4zM202.31 623.26h6.4v6.4h-6.4zM205.2 623.42h6.4v6.4h-6.4zM208.1 623.57h6.4v6.4h-6.4zM211 623.73h6.4v6.4h-6.4zM213.89 623.89h6.4v6.4h-6.4zM216.79 624.05h6.4v6.4h-6.4zM219.68 624.21h6.4v6.4h-6.4zM222.58 624.37h6.4v6.4h-6.4zM225.48 624.53h6.4v6.4h-6.4zM228.37 624.69h6.4v6.4h-6.4zM231.27 624.84h6.4v6.4h-6.4zM234.16 625h6.4v6.4h-6.4zM237.06 625.16h6.4v6.4h-6.4zM239.96 625.32h6.4v6.4h-6.4zM242.85 625.48h6.4v6.4h-6.4zM245.75 625.64h6.4v6.4h-6.4zM248.64 625.8h6.4v6.4h-6.4zM251.54 626.01h6.4v6.4h-6.4zM254.44 626.23h6.4v6.4h-6.4zM257.33 626.45h6.4v6.4h-6.4zM260.23 626.67h6.4v6.4h-6.4zM263.12 626.89h6.4v6.4h-6.4zM266.02 627.1h6.4v6.4h-6.4zM268.92 627.21h6.4v6.4h-6.4zM271.81 627.27h6.4v6.4h-6.4zM274.71 627.32h6.4v6.4h-6.4zM277.6 627.38h6.4v6.4h-6.4zM280.5 627.44h6.4v6.4h-6.4zM283.4 627.49h6.4v6.4h-6.4zM286.29 627.55h6.4v6.4h-6.4zM289.19 627.61h6.4v6.4h-6.4zM292.08 627.67h6.4v6.4h-6.4zM294.98 627.72h6.4v6.4h-6.4zM297.88 627.78h6.4v6.4h-6.4zM300.77 627.84h6.4v6.4h-6.4zM303.67 627.89h6.4v6.4h-6.4zM306.56 627.95h6.4v6.4h-6.4zM309.46 628.01h6.4v6.4h-6.4zM312.36 628.06h6.4v6.4h-6.4zM315.25 628.12h6.4v6.4h-6.4z" fill="#d8d8ff" stroke="#5050ff" stroke-width="1.1"/>
<path d="M65.9 589.84h7v7h-7zM68.79 589.44h7v7h-7zM71.69 589.04h7v7h-7zM74.58 588.61h7v7h-7zM77.48 588.19h7v7h-7zM80.38 587.77h7v7h-7zM83.27 587.08h7v7h-7zM86.17 586.21h7v7h-7zM89.06 585.73h7v7h-7zM91.96 585.63h7v7h-7zM94.86 586.86h7v7h-7zM97.75 589.99h7v7h-7zM100.65 595.96h7v7h-7zM103.54 599.73h7v7h-7zM106.44 600.21h7v7h-7zM109.34 600.68h7v7h-7zM112.23 601.14h7v7h-7zM115.13 601.53h7v7h-7zM118.02 601.92h7v7h-7zM120.92 602.31h7v7h-7zM123.82 603.27h7v7h-7zM126.71 604.36h7v7h-7zM129.61 605.46h7v7h-7zM132.5 608.07h7v7h-7zM135.4 613.07h7v7h-7zM138.3 618.86h7v7h-7zM141.19 621.47h7v7h-7zM144.09 622.3h7v7h-7zM146.98 622.93h7v7h-7zM149.88 623.57h7v7h-7zM152.78 623.88h7v7h-7zM155.67 623.71h7v7h-7zM158.57 623.55h7v7h-7zM161.46 623.38h7v7h-7zM164.36 623.21h7v7h-7zM167.26 623.22h7v7h-7zM170.15 623.24h7v7h-7zM173.05 623.25h7v7h-7zM175.94 623.26h7v7h-7zM178.84 623.28h7v7h-7zM181.74 623.29h7v7h-7zM184.63 623.31h7v7h-7zM187.53 623.36h7v7h-7zM190.42 623.52h7v7h-7zM193.32 623.68h7v7h-7zM196.22 623.84h7v7h-7zM199.11 624h7v7h-7zM202.01 624.16h7v7h-7zM204.9 624.32h7v7h-7zM207.8 624.47h7v7h-7zM210.7 624.63h7v7h-7zM213.59 624.79h7v7h-7zM216.49 624.95h7v7h-7zM219.38 625.11h7v7h-7zM222.28 625.27h7v7h-7zM225.18 625.43h7v7h-7zM228.07 625.59h7v7h-7zM230.97 625.74h7v7h-7zM233.86 625.9h7v7h-7zM236.76 626.06h7v7h-7zM239.66 626.22h7v7h-7zM242.55 626.38h7v7h-7zM245.45 626.54h7v7h-7zM248.34 626.7h7v7h-7zM251.24 626.91h7v7h-7zM254.14 627.13h7v7h-7zM257.03 627.35h7v7h-7zM259.93 627.57h7v7h-7zM262.82 627.79h7v7h-7zM265.72 628h7v7h-7zM268.62 628.11h7v7h-7zM271.51 628.17h7v7h-7zM274.41 628.22h7v7h-7zM277.3 628.28h7v7h-7zM280.2 628.34h7v7h-7zM283.1 628.39h7v7h-7zM285.99 628.45h7v7h-7zM288.89 628.51h7v7h-7zM291.78 628.57h7v7h-7zM294.68 628.62h7v7h-7zM297.58 628.68h7v7h-7zM300.47 628.74h7v7h-7zM303.37 628.79h7v7h-7zM306.26 628.85h7v7h-7zM309.16 628.91h7v7h-7zM312.06 628.96h7v7h-7zM314.95 629.02h7v7h-7z" fill="#0000ff"/>
<rect x="393" y="512.7" width="268.4" height="195.4" fill="none" stroke="#111" stroke-width="1.65" stroke-linejoin="round"/>
<line x1="401" y1="708.1" x2="401" y2="712.4" stroke="#000" stroke-width="1.5"/>
<line x1="422.7" y1="708.1" x2="422.7" y2="711.3" stroke="#000" stroke-width="1.5"/>
<line x1="444.4" y1="708.1" x2="444.4" y2="712.4" stroke="#000" stroke-width="1.5"/>
<line x1="466.1" y1="708.1" x2="466.1" y2="711.3" stroke="#000" stroke-width="1.5"/>
<line x1="487.8" y1="708.1" x2="487.8" y2="712.4" stroke="#000" stroke-width="1.5"/>
<line x1="509.5" y1="708.1" x2="509.5" y2="711.3" stroke="#000" stroke-width="1.5"/>
<line x1="531.2" y1="708.1" x2="531.2" y2="712.4" stroke="#000" stroke-width="1.5"/>
<line x1="552.9" y1="708.1" x2="552.9" y2="711.3" stroke="#000" stroke-width="1.5"/>
<line x1="574.6" y1="708.1" x2="574.6" y2="712.4" stroke="#000" stroke-width="1.5"/>
<line x1="596.3" y1="708.1" x2="596.3" y2="711.3" stroke="#000" stroke-width="1.5"/>
<line x1="618" y1="708.1" x2="618" y2="712.4" stroke="#000" stroke-width="1.5"/>
<line x1="639.7" y1="708.1" x2="639.7" y2="711.3" stroke="#000" stroke-width="1.5"/>
<line x1="661.4" y1="708.1" x2="661.4" y2="712.4" stroke="#000" stroke-width="1.5"/>
<line x1="393" y1="692.1" x2="388.7" y2="692.1" stroke="#000" stroke-width="1.5"/>
<line x1="393" y1="671.68" x2="389.8" y2="671.68" stroke="#000" stroke-width="1.5"/>
<line x1="393" y1="651.25" x2="388.7" y2="651.25" stroke="#000" stroke-width="1.5"/>
<line x1="393" y1="630.83" x2="389.8" y2="630.83" stroke="#000" stroke-width="1.5"/>
<line x1="393" y1="610.4" x2="388.7" y2="610.4" stroke="#000" stroke-width="1.5"/>
<line x1="393" y1="589.98" x2="389.8" y2="589.98" stroke="#000" stroke-width="1.5"/>
<line x1="393" y1="569.55" x2="388.7" y2="569.55" stroke="#000" stroke-width="1.5"/>
<line x1="393" y1="549.12" x2="389.8" y2="549.12" stroke="#000" stroke-width="1.5"/>
<line x1="393" y1="528.7" x2="388.7" y2="528.7" stroke="#000" stroke-width="1.5"/>
<text x="401" y="727.4" font-size="15" fill="#000" text-anchor="middle" stroke="#000" stroke-width="0.35">0</text>
<text x="444.4" y="727.4" font-size="15" fill="#000" text-anchor="middle" stroke="#000" stroke-width="0.35">50</text>
<text x="487.8" y="727.4" font-size="15" fill="#000" text-anchor="middle" stroke="#000" stroke-width="0.35">100</text>
<text x="531.2" y="727.4" font-size="15" fill="#000" text-anchor="middle" stroke="#000" stroke-width="0.35">150</text>
<text x="574.6" y="727.4" font-size="15" fill="#000" text-anchor="middle" stroke="#000" stroke-width="0.35">200</text>
<text x="618" y="727.4" font-size="15" fill="#000" text-anchor="middle" stroke="#000" stroke-width="0.35">250</text>
<text x="661.4" y="727.4" font-size="15" fill="#000" text-anchor="middle" stroke="#000" stroke-width="0.35">300</text>
<text x="385.3" y="696.3" font-size="15" fill="#000" text-anchor="end" stroke="#000" stroke-width="0.35">3.0</text>
<text x="385.3" y="655.45" font-size="15" fill="#000" text-anchor="end" stroke="#000" stroke-width="0.35">3.5</text>
<text x="385.3" y="614.6" font-size="15" fill="#000" text-anchor="end" stroke="#000" stroke-width="0.35">4.0</text>
<text x="385.3" y="573.75" font-size="15" fill="#000" text-anchor="end" stroke="#000" stroke-width="0.35">4.5</text>
<text x="385.3" y="532.9" font-size="15" fill="#000" text-anchor="end" stroke="#000" stroke-width="0.35">5.0</text>
<text x="526.6" y="749.6" font-size="17.6" fill="#000" text-anchor="middle" stroke="#000" stroke-width="0.35">Capacity(mAh/g)</text>
<text x="396.5" y="535" font-size="20" fill="#000" text-anchor="start" stroke="#000" stroke-width="0.35">(f)</text>
<text x="647.3" y="543.9" font-size="18.4" fill="#0000ff" text-anchor="end" stroke="#0000ff" stroke-width="0.35">Bare-700°C</text>
<text x="653.2" y="639.8" font-size="18.2" fill="#ff0000" text-anchor="end" stroke="#ff0000" stroke-width="0.35">Li-doped-700°C</text>
<text x="556.5" y="567.5" font-size="15.4" fill="#000" text-anchor="start" stroke="#000" stroke-width="0.35">1st at 1C-1C</text>
<text x="556" y="586" font-size="15.4" fill="#000" text-anchor="start" stroke="#000" stroke-width="0.35">88th at 1C-1C</text>
<text x="556.5" y="662.7" font-size="15.4" fill="#000" text-anchor="start" stroke="#000" stroke-width="0.35">1st at 1C-1C</text>
<text x="556" y="681.2" font-size="15.4" fill="#000" text-anchor="start" stroke="#000" stroke-width="0.35">88th at 1C-1C</text>
<line x1="517.1" y1="562.2" x2="552.2" y2="562.2" stroke="#0000ff" stroke-width="2.0"/>
<line x1="517.9" y1="581.3" x2="548.7" y2="581.3" stroke="#0000ff" stroke-width="2.0" stroke-dasharray="8.7 6.3 0.9 5.9" stroke-linecap="round"/>
<line x1="517.1" y1="657.4" x2="552.2" y2="657.4" stroke="#ff0000" stroke-width="2.0"/>
<line x1="517.9" y1="676.6" x2="548.7" y2="676.6" stroke="#ff0000" stroke-width="2.0" stroke-dasharray="8.7 6.3 0.9 5.9" stroke-linecap="round"/>
<path d="M401.5 600C401.67 594.17 402.12 573.33 402.5 565C402.88 556.67 403.33 553.58 403.8 550C404.27 546.42 403.57 544.97 405.3 543.5C407.03 542.03 410.63 541.78 414.2 541.2C417.77 540.62 422.25 540.55 426.7 540C431.15 539.45 436.75 538.57 440.9 537.9C445.05 537.23 448.63 536.77 451.6 536C454.57 535.23 456.48 534.55 458.7 533.3C460.92 532.05 463.87 529.3 464.9 528.5" fill="none" stroke="#0000ff" stroke-width="1.8" stroke-linejoin="round" stroke-dasharray="8.7 6.3 0.9 5.9" stroke-linecap="round"/>
<path d="M401 553C401.33 553.83 402.17 556.75 403 558C403.83 559.25 404.37 559.92 406 560.5C407.63 561.08 408.7 561.3 412.8 561.5C416.9 561.7 425.67 561.53 430.6 561.7C435.53 561.87 439.05 561.95 442.4 562.5C445.75 563.05 448.53 563.53 450.7 565C452.87 566.47 454.22 568.92 455.4 571.3C456.58 573.68 457.1 575.92 457.8 579.3C458.5 582.68 459.05 586.18 459.6 591.6C460.15 597.02 460.48 604.8 461.1 611.8C461.72 618.8 462.82 625.12 463.3 633.6C463.78 642.08 463.77 653 464 662.7C464.23 672.4 464.58 686.95 464.7 691.8" fill="none" stroke="#0000ff" stroke-width="1.8" stroke-linejoin="round" stroke-dasharray="8.7 6.3 0.9 5.9" stroke-linecap="round"/>
<path d="M400.9 652.7C400.97 648.08 401.17 633.2 401.3 625C401.43 616.8 401.37 612.38 401.7 603.5C402.03 594.62 402.77 579.63 403.3 571.7C403.83 563.77 404.23 559.6 404.9 555.9C405.57 552.2 406.33 551.1 407.3 549.5C408.27 547.9 407.47 547.17 410.7 546.3C413.93 545.43 421.08 544.92 426.7 544.3C432.32 543.68 438.48 543.05 444.4 542.6C450.32 542.15 457.15 542.17 462.2 541.6C467.25 541.03 470.85 540.22 474.7 539.2C478.55 538.18 482.05 536.83 485.3 535.5C488.55 534.17 491.97 532.42 494.2 531.2C496.43 529.98 497.95 528.7 498.7 528.2" fill="none" stroke="#0000ff" stroke-width="1.8" stroke-linejoin="round"/>
<path d="M401 548C401.17 549.08 401.17 553.17 402 554.5C402.83 555.83 403.22 555.6 406 556C408.78 556.4 412.63 556.48 418.7 556.9C424.77 557.32 435.48 557.73 442.4 558.5C449.32 559.27 455.67 560.42 460.2 561.5C464.73 562.58 466.85 563.42 469.6 565C472.35 566.58 474.92 568.62 476.7 571C478.48 573.38 479.27 576.13 480.3 579.3C481.33 582.47 481.87 584.58 482.9 590C483.93 595.42 485.17 605.25 486.5 611.8C487.83 618.35 489.8 623.23 490.9 629.3C492 635.37 492.37 637.78 493.1 648.2C493.83 658.62 494.93 684.53 495.3 691.8" fill="none" stroke="#0000ff" stroke-width="1.8" stroke-linejoin="round"/>
<path d="M400.9 635.2C401 630.17 401.23 614.2 401.5 605C401.77 595.8 402.08 587.17 402.5 580C402.92 572.83 403.5 566.5 404 562C404.5 557.5 404.92 555 405.5 553C406.08 551 406.63 550.77 407.5 550C408.37 549.23 407.5 548.95 410.7 548.4C413.9 547.85 421.08 547.27 426.7 546.7C432.32 546.13 438.48 545.38 444.4 545C450.32 544.62 457.15 544.75 462.2 544.4C467.25 544.05 470.85 543.67 474.7 542.9C478.55 542.13 481.75 540.95 485.3 539.8C488.85 538.65 492.43 537.47 496 536C499.57 534.53 503.88 532.33 506.7 531C509.52 529.67 511.87 528.5 512.9 528" fill="none" stroke="#ff0000" stroke-width="1.8" stroke-linejoin="round"/>
<path d="M400.9 546.3C401.03 547.63 401.02 552.85 401.7 554.3C402.38 555.75 402.17 554.83 405 555C407.83 555.17 412.47 555.12 418.7 555.3C424.93 555.48 434.9 555.77 442.4 556.1C449.9 556.43 457.18 556.4 463.7 557.3C470.22 558.2 476.95 560.02 481.5 561.5C486.05 562.98 488.43 564.23 491 566.2C493.57 568.17 495.42 570.53 496.9 573.3C498.38 576.07 499.2 580.02 499.9 582.8C500.6 585.58 500.67 586.38 501.1 590C501.53 593.62 501.65 598.43 502.5 604.5C503.35 610.57 505.27 619.12 506.2 626.4C507.13 633.68 507.38 637.3 508.1 648.2C508.82 659.1 510.1 684.53 510.5 691.8" fill="none" stroke="#ff0000" stroke-width="1.8" stroke-linejoin="round"/>
<path d="M401.2 640C401.33 633.33 401.62 612 402 600C402.38 588 402.92 575.83 403.5 568C404.08 560.17 404.75 556.42 405.5 553C406.25 549.58 405.8 548.95 408 547.5C410.2 546.05 414.93 545.05 418.7 544.3C422.47 543.55 426.32 543.4 430.6 543C434.88 542.6 439.13 542.25 444.4 541.9C449.67 541.55 457.15 541.48 462.2 540.9C467.25 540.32 470.85 539.42 474.7 538.4C478.55 537.38 482.33 536 485.3 534.8C488.27 533.6 490.63 532.28 492.5 531.2C494.37 530.12 495.83 528.78 496.5 528.3" fill="none" stroke="#ff0000" stroke-width="1.8" stroke-linejoin="round" stroke-dasharray="8.7 6.3 0.9 5.9" stroke-linecap="round"/>
<path d="M401 550C401.2 550.92 401.37 554.37 402.2 555.5C403.03 556.63 403.25 556.45 406 556.8C408.75 557.15 412.63 557.2 418.7 557.6C424.77 558 435.48 558.43 442.4 559.2C449.32 559.97 455.67 561.1 460.2 562.2C464.73 563.3 466.92 564.17 469.6 565.8C472.28 567.43 474.63 569.58 476.3 572C477.97 574.42 478.62 576.08 479.6 580.3C480.58 584.52 480.55 588.42 482.2 597.3C483.85 606.18 487.8 622.7 489.5 633.6C491.2 644.5 491.57 653 492.4 662.7C493.23 672.4 494.15 686.95 494.5 691.8" fill="none" stroke="#ff0000" stroke-width="1.8" stroke-linejoin="round" stroke-dasharray="8.7 6.3 0.9 5.9" stroke-linecap="round"/>
</svg>
</body></html>
